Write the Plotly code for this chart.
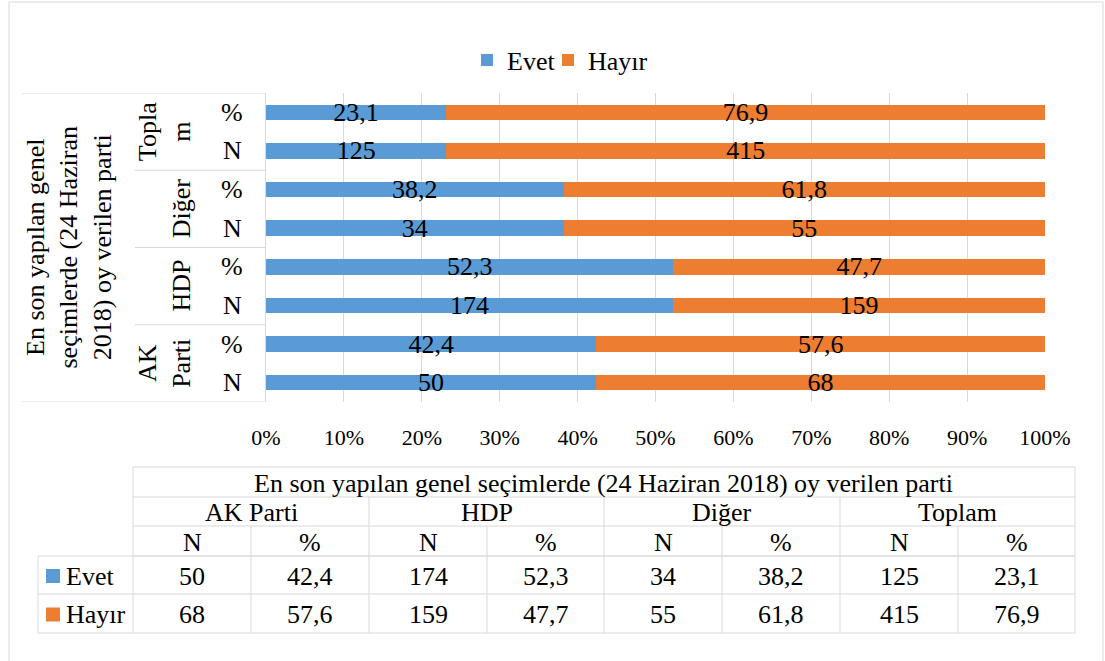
import plotly.graph_objects as go

# ---------------- data ----------------
parties = ["AK Parti", "HDP", "Diğer", "Toplam"]
party_axis_labels = ["AK<br>Parti", "HDP", "Diğer", "Topla<br>m"]
measures = ["N", "%"]
series_names = ["Evet", "Hayır"]
evet_n = [50, 174, 34, 125]
evet_pct = [42.4, 52.3, 38.2, 23.1]
hayir_n = [68, 159, 55, 415]
hayir_pct = [57.6, 47.7, 61.8, 76.9]
axis_title = "En son yapılan genel seçimlerde (24 Haziran 2018) oy verilen parti"
axis_title_wrapped = "En son yapılan genel<br>seçimlerde (24 Haziran<br>2018) oy verilen parti"
tick_values = [0, 10, 20, 30, 40, 50, 60, 70, 80, 90, 100]
tick_labels = ["0%", "10%", "20%", "30%", "40%", "50%", "60%", "70%", "80%", "90%", "100%"]

# ---------------- style ----------------
W, H = 1105, 661
FONT = "Liberation Serif, Times New Roman, serif"
BLUE = "#5B9BD5"
ORANGE = "#ED7D31"
GRID = "#D9D9D9"
FS = 26


def px(x):
    return x / W


def py(y):
    return 1 - y / H


def fmt(v):
    return str(v).replace(".", ",")


cats, ev, ha = [], [], []
for i, p in enumerate(parties):
    for m in measures:
        cats.append(f"{p} {m}")
        ev.append(evet_n[i] if m == "N" else evet_pct[i])
        ha.append(hayir_n[i] if m == "N" else hayir_pct[i])

fig = go.Figure()
for name, vals, col, lw in [(series_names[0], ev, BLUE, 36), (series_names[1], ha, ORANGE, None)]:
    fig.add_trace(go.Bar(
        y=cats, x=vals, name=name, orientation="h", marker=dict(color=col, line=dict(width=0)),
        text=[fmt(v) for v in vals], textposition="inside", insidetextanchor="middle", textangle=0,
        textfont=dict(family=FONT, size=FS, color="black"), constraintext="none",
        hoverinfo="skip", legendwidth=lw,
    ))

shapes = []
annotations = []


def hline(y, x0, x1):
    shapes.append(dict(type="line", xref="paper", yref="paper", x0=px(x0), x1=px(x1),
                       y0=py(y), y1=py(y), line=dict(color=GRID, width=1)))


def vline(x, y0, y1):
    shapes.append(dict(type="line", xref="paper", yref="paper", x0=px(x), x1=px(x),
                       y0=py(y0), y1=py(y1), line=dict(color=GRID, width=1)))


def text(x, y, s, xanchor="center", angle=0, size=FS):
    annotations.append(dict(xref="paper", yref="paper", x=px(x), y=py(y), text=s,
                            showarrow=False, xanchor=xanchor, yanchor="middle", textangle=angle,
                            font=dict(family=FONT, size=size, color="black")))


# chart border
shapes.append(dict(type="rect", xref="paper", yref="paper", x0=px(9), x1=px(1103),
                   y0=py(2), y1=py(675), line=dict(color=GRID, width=1)))

# category axis frame
n = len(cats)
shapes.append(dict(type="line", xref="paper", yref="y", x0=px(22), x1=px(266), y0=-0.5, y1=-0.5,
                   line=dict(color=GRID, width=1)))
shapes.append(dict(type="line", xref="paper", yref="y", x0=px(22), x1=px(266), y0=n - 0.5, y1=n - 0.5,
                   line=dict(color=GRID, width=1)))
for k in range(1, len(parties)):
    yy = k * len(measures) - 0.5
    shapes.append(dict(type="line", xref="paper", yref="y", x0=px(135), x1=px(266), y0=yy, y1=yy,
                       line=dict(color=GRID, width=1)))

# category labels
for i, c in enumerate(cats):
    m = c.split(" ")[-1]
    annotations.append(dict(xref="paper", yref="y", x=px(232), y=i, text=m, showarrow=False,
                            xanchor="center", yanchor="middle",
                            font=dict(family=FONT, size=FS, color="black")))
for k, lab in enumerate(party_axis_labels):
    annotations.append(dict(xref="paper", yref="y", x=px(198), y=k * len(measures) + 0.5, text=lab,
                            showarrow=False, xanchor="right", yanchor="middle", textangle=-90,
                            font=dict(family=FONT, size=FS, color="black")))
annotations.append(dict(xref="paper", yref="y", x=px(69), y=(n - 1) / 2, text=axis_title_wrapped,
                        showarrow=False, xanchor="center", yanchor="middle", textangle=-90,
                        font=dict(family=FONT, size=FS, color="black")))

# ---------------- data table ----------------
col_edges = [133, 251, 369, 487, 604, 722, 840, 958, 1075]
row_edges = [467, 497, 526, 556, 594, 633]
for y in row_edges[:4]:
    hline(y, col_edges[0], col_edges[-1])
for y in row_edges[3:]:
    hline(y, 38, col_edges[-1])
vline(col_edges[0], row_edges[0], row_edges[-1])
vline(col_edges[-1], row_edges[0], row_edges[-1])
for j in (2, 4, 6):
    vline(col_edges[j], row_edges[1], row_edges[-1])
for j in (1, 3, 5, 7):
    vline(col_edges[j], row_edges[2], row_edges[-1])
vline(38, row_edges[3], row_edges[-1])

text((col_edges[0] + col_edges[-1]) / 2, (row_edges[0] + row_edges[1]) / 2 + 1, axis_title)
for k, p in enumerate(parties):
    text((col_edges[2 * k] + col_edges[2 * k + 2]) / 2, (row_edges[1] + row_edges[2]) / 2 + 1, p)
    for j, m in enumerate(measures):
        text((col_edges[2 * k + j] + col_edges[2 * k + j + 1]) / 2, (row_edges[2] + row_edges[3]) / 2 + 1, m)
rows = [(series_names[0], evet_n, evet_pct, BLUE), (series_names[1], hayir_n, hayir_pct, ORANGE)]
for r, (name, nvals, pvals, col) in enumerate(rows):
    yc = (row_edges[3 + r] + row_edges[4 + r]) / 2 + 1
    shapes.append(dict(type="rect", xref="paper", yref="paper", x0=px(46), x1=px(60),
                       y0=py(yc - 7), y1=py(yc + 7), fillcolor=col, line=dict(width=0)))
    text(64, yc, name, xanchor="left")
    for k in range(len(parties)):
        text((col_edges[2 * k] + col_edges[2 * k + 1]) / 2, yc, fmt(nvals[k]))
        text((col_edges[2 * k + 1] + col_edges[2 * k + 2]) / 2, yc, fmt(pvals[k]))

fig.update_layout(
    width=W, height=H, margin=dict(l=0, r=0, t=0, b=0, pad=0, autoexpand=False),
    paper_bgcolor="white", plot_bgcolor="white",
    barmode="stack", barnorm="percent", bargap=0.6,
    uniformtext=dict(minsize=FS, mode="show"),
    font=dict(family=FONT, size=FS, color="black"),
    legend=dict(orientation="h", traceorder="normal", x=px(467), y=py(60), xanchor="left",
                yanchor="middle", font=dict(family=FONT, size=FS, color="black"),
                bgcolor="rgba(0,0,0,0)", itemclick=False, itemdoubleclick=False),
    xaxis=dict(domain=[px(266), px(1045)], range=[0, 100], tickvals=tick_values, ticktext=tick_labels,
               showgrid=True, gridcolor=GRID, gridwidth=1, zeroline=False, showline=False,
               ticks="outside", ticklen=16, tickcolor="rgba(0,0,0,0)", automargin=False,
               tickfont=dict(family=FONT, size=22, color="black"), fixedrange=True),
    yaxis=dict(domain=[py(402), py(93)], categoryorder="array", categoryarray=cats,
               range=[-0.5, n - 0.5], showticklabels=False, showgrid=False, zeroline=False,
               showline=True, linecolor=GRID, linewidth=1, fixedrange=True, automargin=False),
    shapes=shapes, annotations=annotations,
)

fig.write_html("out.html", config={"displayModeBar": False},
               post_script="document.body.style.margin='0';document.body.style.overflow='hidden';")
